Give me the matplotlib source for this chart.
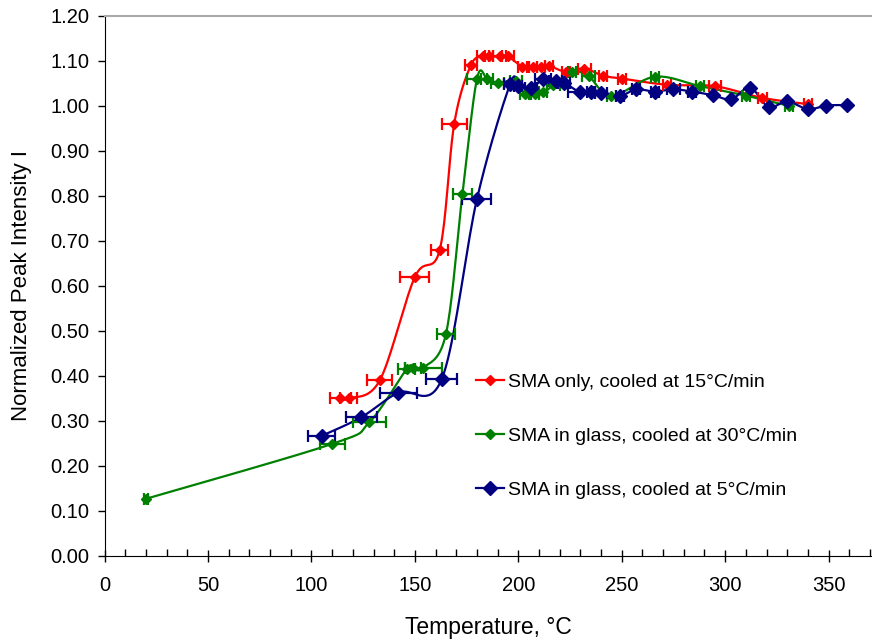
import numpy as np
import matplotlib
matplotlib.use('Agg')
from matplotlib import pyplot as plt
from matplotlib.lines import Line2D
from matplotlib.ticker import MultipleLocator, FormatStrFormatter

plt.rcParams['font.family'] = ['Liberation Sans', 'DejaVu Sans']

# SMA only, cooled at 15 C/min
t_red = [114, 118, 133, 150, 162, 169, 177, 183, 186, 191, 195, 202, 207, 211, 215,
         223, 232, 241, 250, 272, 295, 318, 340]
i_red = [0.35, 0.35, 0.39, 0.62, 0.68, 0.96, 1.09, 1.11, 1.11, 1.11, 1.11, 1.087, 1.086, 1.087, 1.089,
         1.076, 1.083, 1.067, 1.061, 1.047, 1.044, 1.018, 1.004]
e_red = [5, 4, 6, 7, 4, 6, 3, 3, 2, 3, 3, 2, 2, 2, 2, 2, 3, 2, 2, 2, 3, 2, 2]

# SMA in glass, cooled at 30 C/min
t_green = [20, 110, 128, 146, 149, 154, 165, 173, 180, 185, 190, 199, 203, 208, 212,
           217, 226, 234, 245, 266, 288, 310, 331]
i_green = [0.127, 0.249, 0.297, 0.415, 0.417, 0.418, 0.493, 0.805, 1.06, 1.06, 1.052, 1.056, 1.027, 1.027, 1.03,
           1.046, 1.076, 1.066, 1.022, 1.065, 1.044, 1.023, 1.0]
e_green = [1, 6, 8, 4, 4, 9, 4.5, 4.5, 5, 3, 3, 3, 2, 2, 2, 3, 2, 3, 2, 2, 2, 2, 2]

# SMA in glass, cooled at 5 C/min
t_blue = [105, 124, 142, 163, 180, 196, 200, 206, 212, 218, 222, 230, 235, 240, 249,
          257, 266, 275, 284, 294, 303, 312, 321, 330, 340, 349, 359]
i_blue = [0.267, 0.308, 0.363, 0.393, 0.793, 1.048, 1.044, 1.039, 1.059, 1.056, 1.052, 1.03, 1.03, 1.028, 1.022,
          1.037, 1.032, 1.037, 1.032, 1.024, 1.015, 1.041, 0.998, 1.01, 0.993, 1.001, 1.002]
e_blue = [6.5, 7.5, 9, 7.5, 7, 3, 2, 3, 4, 3, 3, 6, 2, 3, 2, 2, 2, 3, 2, 0, 0, 0, 0, 0, 0, 0, 0]

labels = ['SMA only, cooled at 15°C/min',
          'SMA in glass, cooled at 30°C/min',
          'SMA in glass, cooled at 5°C/min']
colors = ['#ff0000', '#008000', '#000080']


def smooth(x, y, n=20):
    # bezier curve through the points, like a spreadsheet "smoothed line"
    x = np.asarray(x, float)
    y = np.asarray(y, float)
    px = np.concatenate([[x[0]], x, [x[-1]]])
    py = np.concatenate([[y[0]], y, [y[-1]]])
    xs, ys = [], []
    s = np.linspace(0, 1, n)
    for k in range(len(x) - 1):
        p0 = np.array([px[k + 1], py[k + 1]])
        p3 = np.array([px[k + 2], py[k + 2]])
        p1 = p0 + (p3 - np.array([px[k], py[k]])) / 6
        p2 = p3 - (np.array([px[k + 3], py[k + 3]]) - p0) / 6
        b = ((1 - s) ** 3)[:, None] * p0 + (3 * s * (1 - s) ** 2)[:, None] * p1 \
            + (3 * s ** 2 * (1 - s))[:, None] * p2 + (s ** 3)[:, None] * p3
        xs.extend(b[:, 0])
        ys.extend(b[:, 1])
    return xs, ys


fig = plt.figure(figsize=(8.72, 6.39), dpi=100)
ax = fig.add_axes([0.12, 0.13, 0.88, 0.845])

series = [(t_red, i_red, e_red, 5), (t_green, i_green, e_green, 5), (t_blue, i_blue, e_blue, 7)]
handles = []
for (t, v, e, ms), c, lab in zip(series, colors, labels):
    sx, sy = smooth(t, v)
    ax.plot(sx, sy, color=c, lw=1.6, zorder=2)
    ax.errorbar(t, v, xerr=e, fmt='none', ecolor=c, elinewidth=1.6, capsize=4, capthick=1.6, zorder=3)
    ax.plot(t, v, 'D', color=c, ms=ms, mec=c, zorder=4)
    handles.append(Line2D([], [], color=c, lw=1.6, marker='D', ms=ms))

ax.set_xlim(0, 371)
ax.set_ylim(0, 1.2)
ax.xaxis.set_major_locator(MultipleLocator(50))
ax.xaxis.set_minor_locator(MultipleLocator(10))
ax.yaxis.set_major_locator(MultipleLocator(0.1))
ax.yaxis.set_major_formatter(FormatStrFormatter('%.2f'))
ax.tick_params(axis='x', which='major', direction='inout', length=9, width=1, labelsize=14.5, pad=10)
ax.tick_params(axis='x', which='minor', direction='in', length=5, width=1)
ax.tick_params(axis='y', direction='out', length=5, width=1, labelsize=14.5, pad=6)

ax.spines['right'].set_visible(False)
ax.spines['top'].set_color('#aaaaaa')
ax.spines['top'].set_linewidth(1.5)

ax.set_xlabel('Temperature, °C', fontsize=16.5, labelpad=15)
ax.set_ylabel('Normalized Peak Intensity I', fontsize=16, labelpad=13)

ax.legend(handles, labels, loc='upper left', bbox_to_anchor=(0.461, 0.37), frameon=False,
          fontsize=14, labelspacing=1.86, handlelength=1.45, handletextpad=0.2)

fig.savefig('out.png', dpi=100)
